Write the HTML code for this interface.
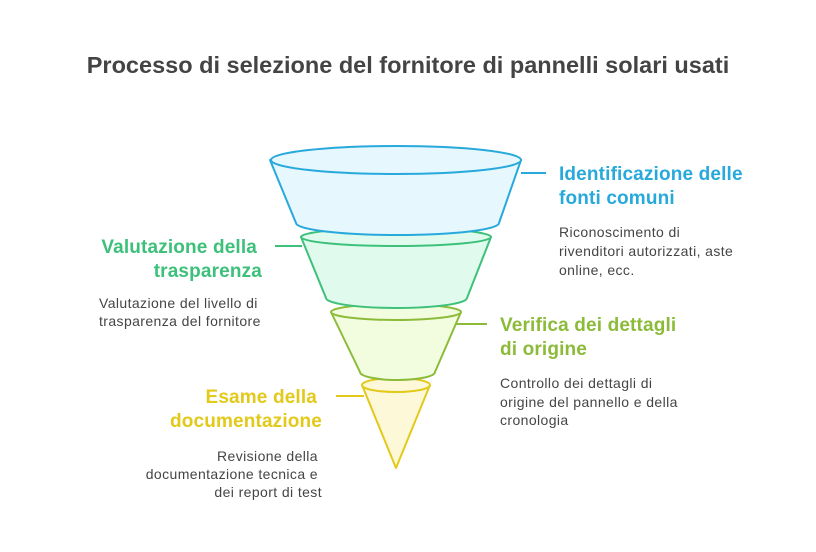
<!DOCTYPE html>
<html><head><meta charset="utf-8"><style>
html,body{margin:0;padding:0;background:#fff;}
svg{display:block;font-family:"Liberation Sans",Arial,sans-serif;}
.t{font-weight:bold;font-size:19px;letter-spacing:0.15px;}
.d{font-size:14px;fill:#454545;letter-spacing:0.4px;}
</style></head><body>
<svg width="816" height="552" viewBox="0 0 816 552">
<text x="408" y="73" text-anchor="middle" font-size="23.5" font-weight="bold" fill="#444">Processo di selezione del fornitore di pannelli solari usati</text>
<g stroke-width="2" stroke-linejoin="round">
<path d="M362,385 L396,468 L430,385 A34,7 0 0 1 362,385 Z" fill="#fdf8d8" stroke="#e3c919"/>
<ellipse cx="396" cy="385" rx="34" ry="7" fill="#fdf8d8" stroke="#e3c919"/>
<path d="M331,312 L360,372 A37.5,8 0 0 0 435,372 L461,312 Z" fill="#f2fcde" stroke="#8cbb3a"/>
<ellipse cx="396" cy="312" rx="65" ry="8" fill="#f2fcde" stroke="#8cbb3a"/>
<path d="M301,237 L326,298 A70.5,10 0 0 0 467,298 L491,237 Z" fill="#e0fbee" stroke="#3dc07a"/>
<ellipse cx="396" cy="237" rx="95" ry="9" fill="#e0fbee" stroke="#3dc07a"/>
<path d="M270,160 L296,223 A101.5,12 0 0 0 499,223 L521,160 Z" fill="#e6f7fd" stroke="#27a9dc"/>
<ellipse cx="396" cy="160" rx="125" ry="14" fill="#e6f7fd" stroke="#27a9dc"/>
</g>
<g stroke-width="2">
<line x1="521" y1="173" x2="546" y2="173" stroke="#27a9dc"/>
<line x1="275" y1="246" x2="302" y2="246" stroke="#3dc07a"/>
<line x1="455" y1="324" x2="487" y2="324" stroke="#8cbb3a"/>
<line x1="336" y1="396" x2="364" y2="396" stroke="#e3c919"/>
</g>
<g class="t" fill="#27a9dc"><text x="559" y="180">Identificazione delle</text><text x="559" y="204">fonti comuni</text></g>
<g class="d"><text x="559" y="237">Riconoscimento di</text><text x="559" y="256">rivenditori autorizzati, aste</text><text x="559" y="275">online, ecc.</text></g>
<g class="t" fill="#3dc07a" text-anchor="end"><text x="257" y="253">Valutazione della</text><text x="262" y="277">trasparenza</text></g>
<g class="d"><text x="99" y="308">Valutazione del livello di</text><text x="99" y="326">trasparenza del fornitore</text></g>
<g class="t" fill="#8cbb3a"><text x="500" y="331">Verifica dei dettagli</text><text x="500" y="355">di origine</text></g>
<g class="d"><text x="500" y="388">Controllo dei dettagli di</text><text x="500" y="407">origine del pannello e della</text><text x="500" y="425">cronologia</text></g>
<g class="t" fill="#e3c919" text-anchor="end"><text x="317" y="403">Esame della</text><text x="322" y="427">documentazione</text></g>
<g class="d" text-anchor="end"><text x="318" y="461">Revisione della</text><text x="318" y="479">documentazione tecnica e</text><text x="322" y="497">dei report di test</text></g>
</svg>
</body></html>
